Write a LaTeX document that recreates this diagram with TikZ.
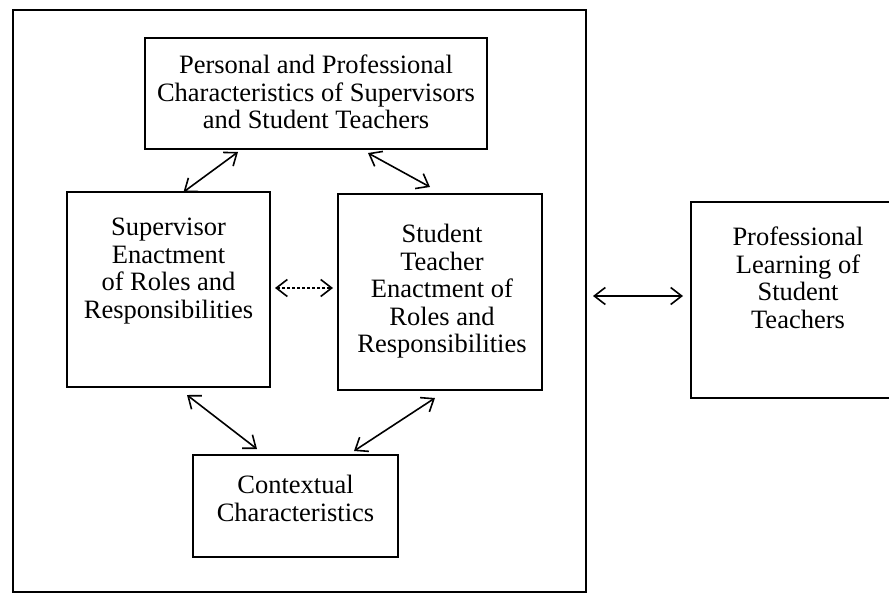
\documentclass[tikz,border=0pt]{standalone}
\usepackage{fontspec}
\setmainfont{Liberation Serif}
\usetikzlibrary{arrows.meta}
\begin{document}
\begin{tikzpicture}[x=1pt,y=-1pt,
  box/.style={draw, line width=1.6pt, inner sep=0pt, outer sep=0pt},
  txt/.style={align=center, inner sep=0pt, font=\fontsize{26.5}{27.5}\selectfont},
  link/.style={line width=1.6pt, {Straight Barb[length=11pt,width=17pt]}-{Straight Barb[length=11pt,width=17pt]}}]
\useasboundingbox (0,0) rectangle (889,596);
% boxes
\node[box, minimum width=573pt, minimum height=582pt] (frame) at (299.5,301) {};
\node[box, minimum width=342pt, minimum height=111pt] (top) at (316,93.5) {};
\node[box, minimum width=203pt, minimum height=195pt] (sup) at (168.5,289.5) {};
\node[box, minimum width=204pt, minimum height=196pt] (stu) at (440,292) {};
\node[box, minimum width=205pt, minimum height=102pt] (ctx) at (295.5,506) {};
\node[box, minimum width=214pt, minimum height=196pt] (prof) at (798,300) {};
% texts
\node[txt, anchor=north] (toptext) at ([yshift=-17pt]top.north) {Personal and Professional\\Characteristics of Supervisors\\and Student Teachers};
\node[txt, anchor=north] (suptext) at ([yshift=-26pt]sup.north) {Supervisor\\Enactment\\of Roles and\\Responsibilities};
\node[txt, anchor=north] (stutext) at ([xshift=2pt,yshift=-30pt]stu.north) {Student\\Teacher\\Enactment of\\Roles and\\Responsibilities};
\node[txt, anchor=north] (ctxtext) at ([yshift=-20pt]ctx.north) {Contextual\\Characteristics};
\node[txt, anchor=north] (proftext) at ([yshift=-25pt]prof.north) {Professional\\Learning of\\Student\\Teachers};
% connectors
\draw[link] ([xshift=15pt]sup.north) -- ([xshift=-78pt,yshift=-3pt]top.south);
\draw[link] ([xshift=52pt,yshift=-4pt]top.south) -- ([xshift=-10pt,yshift=7pt]stu.north);
\draw[link, dash pattern=on 3pt off 2pt] ([xshift=5pt,yshift=1.5pt]sup.east) -- ([xshift=-5pt,yshift=4pt]stu.west);
\draw[link] ([xshift=18.5pt,yshift=-8pt]sup.south) -- ([xshift=-38.5pt,yshift=6pt]ctx.north);
\draw[link] ([xshift=-5pt,yshift=-8pt]stu.south) -- ([xshift=58.5pt,yshift=4pt]ctx.north);
\draw[link] ([xshift=7pt,yshift=5pt]frame.east) -- ([xshift=-8pt,yshift=4pt]prof.west);
\end{tikzpicture}
\end{document}
